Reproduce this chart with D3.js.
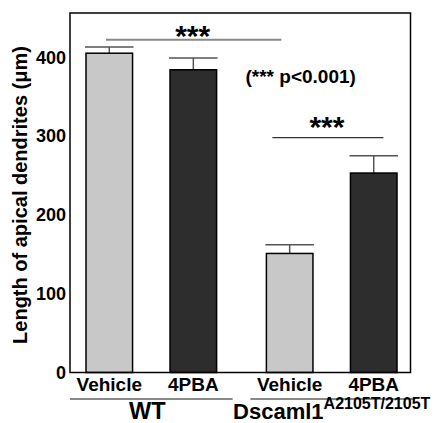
<!DOCTYPE html>
<html>
<head>
<meta charset="utf-8">
<script src="https://cdn.jsdelivr.net/npm/d3@7"></script>
<style>
  body { margin: 0; background: #fff; }
  text { font-family: "Liberation Sans", Arial, Helvetica, sans-serif; font-weight: bold; fill: #000; }
</style>
</head>
<body>
<svg id="chart" width="434" height="423"></svg>
<script>
// data
var groups = ["WT", "Dscaml1"];
var treatments = ["Vehicle", "4PBA"];
var means = [[405, 384], [151, 253]];
var sems = [[8, 15], [11, 22]];
var yTicks = [0, 100, 200, 300, 400];
var sigPairs = [
  { from: [0, 0], to: [1, 0], level: 422, label: "***" },
  { from: [1, 0], to: [1, 1], level: 298, label: "***" }
];
var pNote = "(*** p<0.001)";

var svg = d3.select("#chart");
var margin = { top: 13, right: 23.5, bottom: 50.5, left: 70 },
    width = 434 - margin.left - margin.right,
    height = 423 - margin.top - margin.bottom;

var g = svg.append("g").attr("transform", "translate(" + margin.left + "," + margin.top + ")");

var y = d3.scaleLinear().domain([0, 456]).range([height, 0]);

// group scale, then treatment scale inside each group
var x0 = d3.scaleBand().domain(groups).range([16, 327]).paddingInner(0.276).paddingOuter(0);
var x1 = d3.scaleBand().domain(treatments).range([0, x0.bandwidth()]).paddingInner(0.446).paddingOuter(0);

function barX(gi, ti) { return x0(groups[gi]) + x1(treatments[ti]); }

var bars = [];
groups.forEach(function (gr, gi) {
  treatments.forEach(function (tr, ti) {
    bars.push({ gi: gi, ti: ti, mean: means[gi][ti], sem: sems[gi][ti] });
  });
});

// error bars (upper only)
var err = g.selectAll(".err").data(bars).enter().append("g").attr("class", "err");
err.append("line")
  .attr("x1", function (d) { return barX(d.gi, d.ti) + x1.bandwidth() / 2; })
  .attr("x2", function (d) { return barX(d.gi, d.ti) + x1.bandwidth() / 2; })
  .attr("y1", function (d) { return y(d.mean); })
  .attr("y2", function (d) { return y(d.mean + d.sem); })
  .attr("stroke", "#555").attr("stroke-width", 1.5);
err.append("line")
  .attr("x1", function (d) { return barX(d.gi, d.ti) - 1; })
  .attr("x2", function (d) { return barX(d.gi, d.ti) + x1.bandwidth() + 1; })
  .attr("y1", function (d) { return y(d.mean + d.sem); })
  .attr("y2", function (d) { return y(d.mean + d.sem); })
  .attr("stroke", "#555").attr("stroke-width", 1.5);

// bars
g.selectAll(".bar").data(bars).enter().append("rect")
  .attr("class", "bar")
  .attr("x", function (d) { return barX(d.gi, d.ti); })
  .attr("width", x1.bandwidth())
  .attr("y", function (d) { return y(d.mean); })
  .attr("height", function (d) { return y(0) - y(d.mean); })
  .attr("fill", function (d) { return d.ti === 0 ? "#c8c8c8" : "#2d2d2d"; })
  .attr("stroke", "#000").attr("stroke-width", 1.5);

// frame
g.append("rect")
  .attr("x", 0).attr("y", 0).attr("width", width).attr("height", height)
  .attr("fill", "none").attr("stroke", "#000").attr("stroke-width", 1.5);

// y tick labels, no tick marks
g.selectAll(".ytick").data(yTicks).enter().append("text")
  .attr("class", "ytick")
  .attr("x", -4)
  .attr("y", function (d) { return y(d); })
  .attr("dy", "0.36em")
  .attr("text-anchor", "end")
  .style("font-size", "18px")
  .text(function (d) { return d; });

// y title
svg.append("text")
  .attr("transform", "translate(27,195) rotate(-90)")
  .attr("text-anchor", "middle")
  .style("font-size", "20px")
  .text("Length of apical dendrites (\u03bcm)");

// treatment labels
g.selectAll(".xlab").data(bars).enter().append("text")
  .attr("class", "xlab")
  .attr("x", function (d) { return barX(d.gi, d.ti) + x1.bandwidth() / 2; })
  .attr("y", height + 18.5)
  .attr("text-anchor", "middle")
  .style("font-size", "19px")
  .text(function (d) { return treatments[d.ti]; });

// group underlines
g.selectAll(".gline").data(groups).enter().append("line")
  .attr("x1", function (d) { return x0(d) - 16; })
  .attr("x2", function (d) { return x0(d) + x0.bandwidth() + 16; })
  .attr("y1", height + 26.5).attr("y2", height + 26.5)
  .attr("stroke", "#888").attr("stroke-width", 2);

// group labels
g.append("text")
  .attr("x", x0("WT") + x0.bandwidth() / 2 - 4)
  .attr("y", height + 46.5)
  .attr("text-anchor", "middle")
  .style("font-size", "23.5px")
  .text("WT");

var dl = g.append("text")
  .attr("x", x0("Dscaml1") + x0.bandwidth() / 2)
  .attr("y", height + 46.5)
  .attr("text-anchor", "middle")
  .style("font-size", "22px");
dl.append("tspan").text("Dscaml1");
dl.append("tspan").attr("dy", -10.5).style("font-size", "16px").text("A2105T/2105T");

// significance lines
var sigStyle = [
  { pad1: 20, pad2: 15, color: "#888", w: 2, gap: 5.5 },
  { pad1: 6, pad2: 33, color: "#333", w: 1.2, gap: 12 }
];
sigPairs.forEach(function (p, i) {
  var s = sigStyle[i];
  var xa = barX(p.from[0], p.from[1]) + s.pad1;
  var xb = barX(p.to[0], p.to[1]) + s.pad2;
  g.append("line")
    .attr("x1", xa).attr("x2", xb)
    .attr("y1", y(p.level)).attr("y2", y(p.level))
    .attr("stroke", s.color).attr("stroke-width", s.w);
  g.append("text")
    .attr("x", (xa + xb) / 2 - 1)
    .attr("y", y(p.level) - s.gap + 11.5)
    .attr("text-anchor", "middle")
    .style("font-size", "30px")
    .text(p.label);
});

g.append("text")
  .attr("x", x0("Dscaml1") + x0.bandwidth() / 2 - 31)
  .attr("y", y(367))
  .attr("text-anchor", "middle")
  .style("font-size", "19px")
  .text(pNote);
</script>
</body>
</html>
